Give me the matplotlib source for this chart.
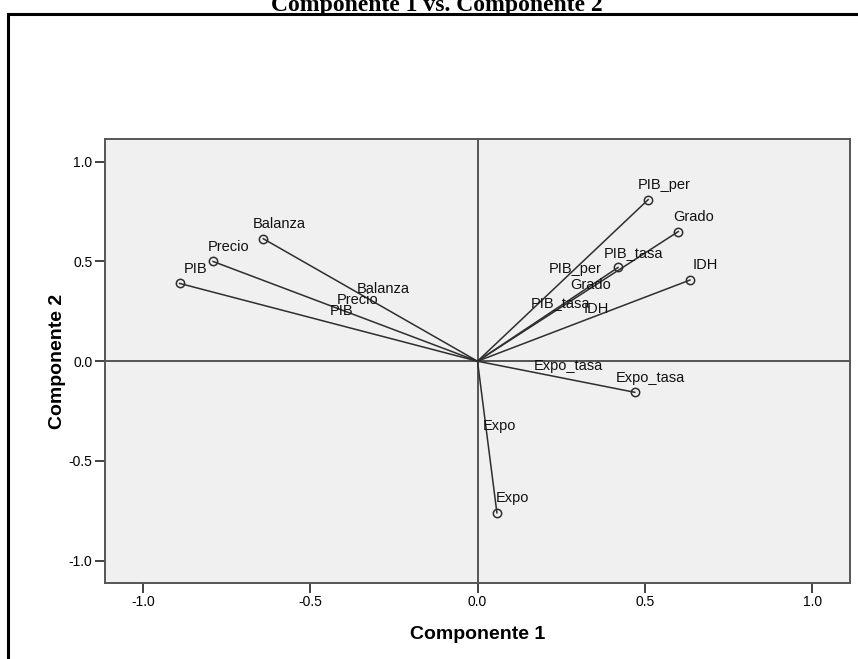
import matplotlib
matplotlib.use('Agg')
import matplotlib.pyplot as plt
from matplotlib.patches import Rectangle

# datos de las cargas (Componente 1, Componente 2)
variables = ['PIB', 'Precio', 'Balanza', 'PIB_per', 'Grado', 'PIB_tasa', 'IDH', 'Expo_tasa', 'Expo']
comp1 = [-0.89, -0.79, -0.64, 0.51, 0.60, 0.42, 0.635, 0.47, 0.058]
comp2 = [0.39, 0.50, 0.614, 0.81, 0.65, 0.47, 0.407, -0.156, -0.76]
ticks = [-1.0, -0.5, 0.0, 0.5, 1.0]
tick_labels = ['-1.0', '-0.5', '0.0', '0.5', '1.0']

plt.rcParams['font.family'] = ['Liberation Sans', 'DejaVu Sans']

fig = plt.figure(figsize=(8.58, 6.59), dpi=100)
ax = fig.add_axes([105 / 858, 1 - 583 / 659, 745 / 858, 444 / 659])
ax.set_facecolor('#f0f0f0')

# marco exterior (cortado a la derecha y abajo)
fig.patches.append(Rectangle((7.5 / 858, -0.05), 1.1, 1 - 14 / 659 + 0.05,
                             transform=fig.transFigure, fill=False,
                             edgecolor='black', linewidth=2.2))

# titulo (cortado arriba como en el original)
fig.text(437 / 858, 1 - 11.5 / 659, 'Componente 1 vs. Componente 2',
         ha='center', va='baseline', fontsize=17, fontweight='bold',
         family=['Liberation Serif', 'DejaVu Serif'])

ax.axhline(0, color='#3a3a3a', linewidth=1.2, zorder=1)
ax.axvline(0, color='#3a3a3a', linewidth=1.2, zorder=1)

for name, x, y in zip(variables, comp1, comp2):
    ax.plot([0, x], [0, y], color='#2e2e2e', linewidth=1.1, zorder=2)
    ax.plot(x, y, 'o', markersize=6, markerfacecolor='none',
            markeredgecolor='#2e2e2e', markeredgewidth=1.1, zorder=3)
    # etiqueta en el extremo
    ax.annotate(name, (x, y), xytext=(11.3, 10.6), textcoords='offset points',
                ha='center', va='center', fontsize=10.5, color='#111111', zorder=4)
    # etiqueta en el punto medio
    ax.annotate(name, (x / 2, y / 2), xytext=(9, 8), textcoords='offset points',
                ha='center', va='center', fontsize=10.5, color='#111111', zorder=4)

ax.set_xlim(-1.113, 1.113)
ax.set_ylim(-1.112, 1.114)
ax.set_xticks(ticks)
ax.set_xticklabels(tick_labels)
ax.set_yticks(ticks)
ax.set_yticklabels(tick_labels)
ax.tick_params(direction='out', length=7, width=1.3, color='#333333',
               labelsize=10, pad=2)

for side in ['left', 'bottom', 'right', 'top']:
    ax.spines[side].set_color('#555555')
    ax.spines[side].set_linewidth(1.4)

ax.set_xlabel('Componente 1', fontsize=14, fontweight='bold', labelpad=12)
ax.set_ylabel('Componente 2', fontsize=14, fontweight='bold', labelpad=2)

fig.savefig('out.png', dpi=100)
